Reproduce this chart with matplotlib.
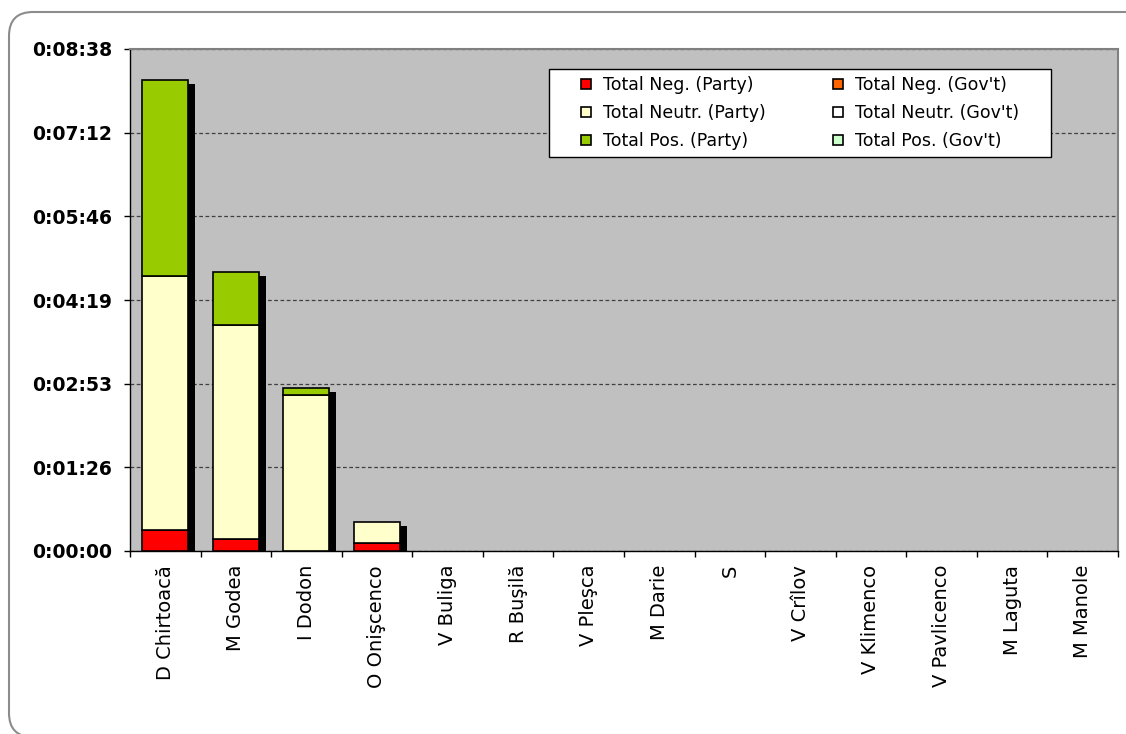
import numpy as np
import matplotlib
matplotlib.use("Agg")
import matplotlib.pyplot as plt
from matplotlib.patches import FancyBboxPatch, Rectangle, Patch
from matplotlib.ticker import FuncFormatter, MultipleLocator
from matplotlib.transforms import IdentityTransform

# --- Dados (segundos) ---
candidates = ["D Chirtoacă", "M Godea", "I Dodon", "O Onişcenco", "V Buliga",
              "R Buşilă", "V Pleşca", "M Darie", "S", "V Crîlov", "V Klimenco",
              "V Pavlicenco", "M Laguta", "M Manole"]
neg_party = [22, 12, 0, 8, 0, 0, 0, 0, 0, 0, 0, 0, 0, 0]
neutr_party = [262, 221, 161, 22, 0, 0, 0, 0, 0, 0, 0, 0, 0, 0]
pos_party = [202, 55, 7, 0, 0, 0, 0, 0, 0, 0, 0, 0, 0, 0]
neg_gov = [0] * 14
neutr_gov = [0] * 14
pos_gov = [0] * 14

series = [
    ("Total Neg. (Party)", neg_party, "#FF0000"),
    ("Total Neutr. (Party)", neutr_party, "#FFFFCC"),
    ("Total Pos. (Party)", pos_party, "#99CC00"),
    ("Total Neg. (Gov't)", neg_gov, "#FF6600"),
    ("Total Neutr. (Gov't)", neutr_gov, "#FFFFFF"),
    ("Total Pos. (Gov't)", pos_gov, "#CCFFCC"),
]

# eixo em fracções de dia do Excel: passo 0.001 dia = 86.4 s
Y_STEP = 86.4
Y_MAX = 6 * Y_STEP


def hms(v, pos=None):
    v = int(round(v))
    return f"{v // 3600}:{(v % 3600) // 60:02d}:{v % 60:02d}"


fig = plt.figure(figsize=(11.26, 7.34), dpi=100)
fig.patch.set_facecolor("white")

# moldura arredondada (cortada à direita e em baixo)
frame = FancyBboxPatch((9, -3), 1140, 725, boxstyle="round,pad=0,rounding_size=24",
                       transform=IdentityTransform(), facecolor="white",
                       edgecolor="#8c8c8c", linewidth=1.5, zorder=-1)
fig.add_artist(frame)

ax = fig.add_axes([130 / 1126, 1 - 551 / 734, 988 / 1126, 502 / 734])
ax.set_facecolor("#C0C0C0")

x = np.arange(len(candidates))
width = 0.65

# sombra das barras (deslocada para a direita/baixo)
totals = np.sum([s[1] for s in series], axis=0)
px_per_cat = 988 / len(candidates)
px_per_sec = 502 / Y_MAX
shadow_dx = 7 / px_per_cat
shadow_dy = 4 / px_per_sec
shadow_h = np.where(totals > 0, np.maximum(totals - shadow_dy, 0), 0)
sh = ax.bar(x + shadow_dx, shadow_h, width, color="black", zorder=2)
for r in sh:
    if r.get_height() == 0:
        r.set_visible(False)

bottom = np.zeros(len(candidates))
handles = []
for label, vals, color in series:
    vals = np.array(vals, dtype=float)
    b = ax.bar(x, vals, width, bottom=bottom, color=color, edgecolor="black",
               linewidth=1.2, zorder=3)
    for r in b:
        if r.get_height() == 0:
            r.set_visible(False)
    handles.append(Patch(facecolor=color, edgecolor="black", linewidth=1.2, label=label))
    bottom += vals

ax.set_xlim(-0.5, len(candidates) - 0.5)
ax.set_ylim(0, Y_MAX)
ax.yaxis.set_major_locator(MultipleLocator(Y_STEP))
ax.yaxis.set_major_formatter(FuncFormatter(hms))
ax.grid(axis="y", color="#404040", linestyle=(0, (3, 2)), linewidth=0.9, zorder=1)
ax.set_axisbelow(True)

ax.set_xticks(x)
ax.set_xticklabels(candidates, rotation=90, fontsize=14)
ax.set_xticks(np.arange(len(candidates) + 1) - 0.5, minor=True)
ax.tick_params(axis="x", which="major", length=0, pad=10)
ax.tick_params(axis="x", which="minor", length=4, width=1, color="black")
ax.tick_params(axis="y", length=4, width=1, pad=9, labelsize=13.5)
for lbl in ax.get_yticklabels():
    lbl.set_fontweight("bold")

for side in ["top", "right"]:
    ax.spines[side].set_color("#808080")
    ax.spines[side].set_linewidth(1.5)
for side in ["left", "bottom"]:
    ax.spines[side].set_color("black")
    ax.spines[side].set_linewidth(1)

# caixa da legenda
x0, x1 = (549 - 130) / 988, (1051 - 130) / 988
y0, y1 = (551 - 157) / 502, (551 - 69) / 502
box = Rectangle((x0, y0), x1 - x0, y1 - y0, transform=ax.transAxes,
                facecolor="white", edgecolor="black", linewidth=1, zorder=4)
ax.add_patch(box)
leg = ax.legend(handles=handles, ncol=2, loc="center",
                bbox_to_anchor=((x0 + x1) / 2, (y0 + y1) / 2),
                frameon=False, fontsize=12.5, handlelength=0.55, handleheight=0.55,
                handletextpad=0.7, labelspacing=0.58, columnspacing=3.9)
leg.set_zorder(5)

fig.savefig("out.png", dpi=100)
